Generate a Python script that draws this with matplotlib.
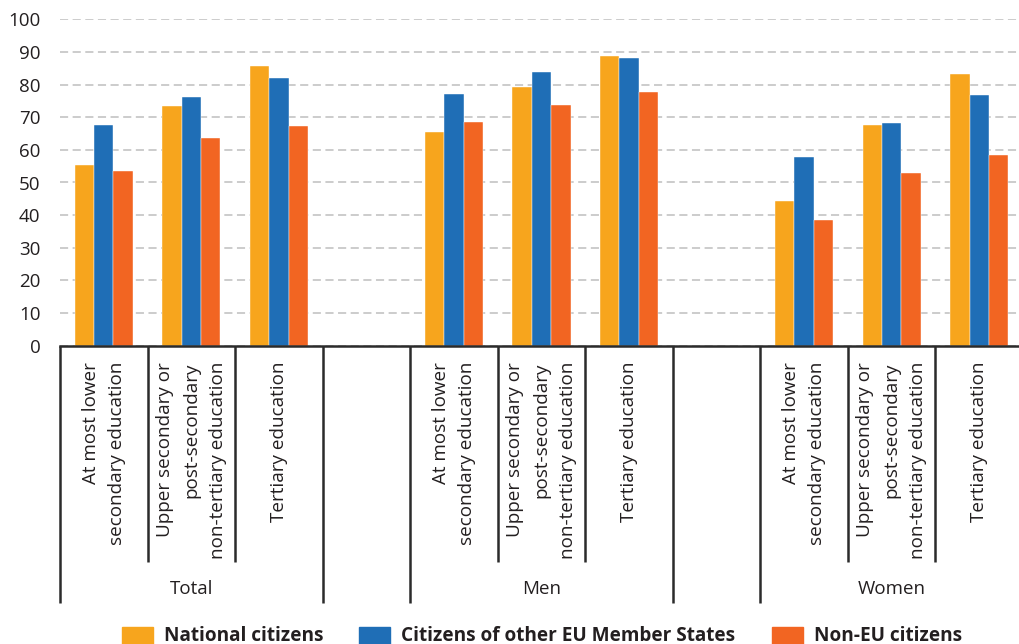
import matplotlib
matplotlib.use("Agg")
import matplotlib.pyplot as plt
import matplotlib.transforms as mtransforms
from matplotlib.patches import Rectangle
import numpy as np

plt.rcParams['font.family'] = ['Open Sans', 'DejaVu Sans']

# data (employment rate, %)
groups = ['Total', 'Men', 'Women']
levels = ['At most lower\nsecondary education',
          'Upper secondary or\npost-secondary\nnon-tertiary education',
          'Tertiary education']
series = ['National citizens', 'Citizens of other EU Member States', 'Non-EU citizens']
national = [55.4, 73.4, 85.7, 65.5, 79.3, 88.7, 44.3, 67.5, 83.1]
eu_citizens = [67.6, 76.1, 81.9, 77.0, 83.9, 88.0, 57.8, 68.1, 76.8]
non_eu = [53.5, 63.6, 67.4, 68.5, 73.6, 77.8, 38.5, 53.0, 58.4]
colors = ['#F7A51D', '#1F6EB6', '#F26522']

W, H = 1019, 644
fig = plt.figure(figsize=(W / 100, H / 100), dpi=100)
# axes: left edge 60px, y=0 at 346px, y=100 at 19px, 11 slots of ~87.6px
ax = fig.add_axes([60 / W, (H - 345.7) / H, 963 / W, 326.4 / H])

n_lv = len(levels)
slot = []  # slot index of each bar group (one empty slot between sexes)
for g in range(len(groups)):
    for l in range(n_lv):
        slot.append(g * (n_lv + 1) + l)
slot = np.array(slot, dtype=float)

bw = 0.222
for k, vals in enumerate([national, eu_citizens, non_eu]):
    ax.bar(slot + (k - 1) * bw, vals, width=bw, color=colors[k],
           edgecolor='white', linewidth=0.3, zorder=3)

ax.set_xlim(-0.5, 10.5)
ax.set_ylim(0, 100)
ax.set_yticks(np.arange(0, 101, 10))
ax.yaxis.grid(True, color='#c8c8c8', linestyle=(0, (4.5, 2.5)), linewidth=1.3, zorder=0)
ax.tick_params(axis='y', length=0, pad=14, labelsize=13.5, labelcolor='#231f20')
ax.set_xticks([])
for s in ['left', 'right', 'top']:
    ax.spines[s].set_visible(False)
ax.spines['bottom'].set_linewidth(1.8)
ax.spines['bottom'].set_color('#2b2b2b')
ax.spines['bottom'].set_zorder(5)

# category / group labels and separator lines under the axis
trans = mtransforms.blended_transform_factory(ax.transData, fig.transFigure)
y_axis = (H - 346) / H
y_short = (H - 562) / H
y_long = (H - 603) / H
for g, name in enumerate(groups):
    start = g * (n_lv + 1) - 0.5
    for b in range(n_lv + 1):
        x = start + b
        yb = y_long if b in (0, n_lv) else y_short
        ax.plot([x, x], [y_axis, yb], transform=trans, color='#2b2b2b',
                lw=1.8, clip_on=False, solid_capstyle='butt')
    for l, lab in enumerate(levels):
        ax.text(start + 0.5 + l, (H - 362) / H, lab, transform=trans,
                rotation=90, ha='center', va='top', multialignment='right',
                fontsize=13.6, color='#231f20', linespacing=1.6)
    ax.text(start + 0.5 + (n_lv - 1) / 2, (H - 589) / H, name, transform=trans,
            ha='center', va='center', fontsize=13.5, color='#231f20')

# legend along the bottom edge (partly cropped as in the source)
patch_x = [122, 359, 772]
text_x = [164, 401, 814]
for k, name in enumerate(series):
    fig.add_artist(Rectangle((patch_x[k] / W, -0.02), 31 / W, 0.02 + 17 / H,
                             transform=fig.transFigure, color=colors[k]))
    fig.text(text_x[k] / W, 3 / H, name, ha='left', va='baseline',
             fontsize=13.7, fontweight='bold', color='#231f20')

fig.savefig('out.png', dpi=100)
